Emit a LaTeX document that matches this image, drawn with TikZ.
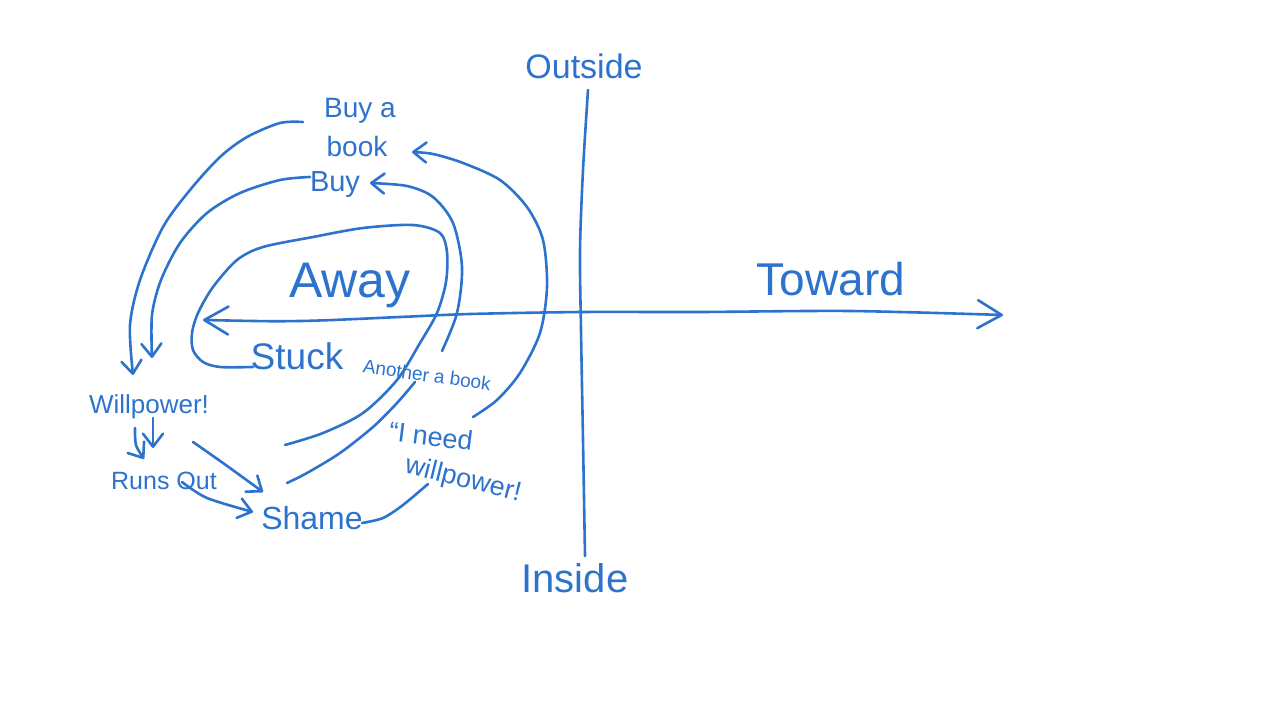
\documentclass[tikz,border=0pt]{standalone}
\usepackage{fontspec}
\setmainfont{Liberation Sans}
\usetikzlibrary{arrows.meta}
\definecolor{ink}{RGB}{45,115,205}
\tikzset{
  bigtip/.tip={Straight Barb[length=24pt,width=28pt,round]},
  smalltip/.tip={Straight Barb[length=13pt,width=20pt,round]},
  pen/.style={draw=ink, line width=2.6pt, line cap=round, line join=round},
  lbl/.style={text=ink, inner sep=0pt, anchor=base},
  rlbl/.style={text=ink, inner sep=0pt},
  fs/.style={font=\fontsize{#1}{#1}\selectfont}
}
\begin{document}
\begin{tikzpicture}[x=1pt,y=-1pt]
\useasboundingbox (0,0) rectangle (1280,720);

% labels
\node[lbl,fs=34] (outside) at (584,78) {Outside};
\node[lbl,fs=40] (inside) at (575,592) {Inside};
\node[lbl,fs=46] (toward) at (831,295) {Toward};
\node[lbl,fs=50] (away) at (350,297) {Away};
\node[lbl,fs=28] (buya) at (360,117) {Buy a};
\node[lbl,fs=28] (book) at (357,156) {book};
\node[lbl,fs=29] (buy) at (335,191) {Buy};
\node[lbl,fs=37] (stuck) at (297,369) {Stuck};
\node[rlbl,fs=19,rotate=-8] (another) at (427,375) {Another a book};
\node[lbl,fs=26] (willpower) at (149,413) {Willpower!};
\node[lbl,fs=25] (runsout) at (164,489) {Runs Out};
\node[lbl,fs=32] (shame) at (312,529) {Shame};
\node[rlbl,fs=27,rotate=-7] (ineed) at (431,436) {“I need};
\node[rlbl,fs=27,rotate=-14] (ineedb) at (463,480) {willpower!};

% named end points
\coordinate (vtop) at (588,90);
\coordinate (vbot) at (585,556);
\coordinate (hl) at (203,320);
\coordinate (hr) at (1003,315);
\coordinate (a0) at (303,122);
\coordinate (a1) at (133,375);
\coordinate (b0) at (310,177);
\coordinate (b1) at (152,358);
\coordinate (c0) at (253,367);
\coordinate (c1) at (285,445);
\coordinate (d0) at (287,483);
\coordinate (d1) at (415,382);
\coordinate (d2) at (442,351);
\coordinate (d3) at (370,183);
\coordinate (e0) at (473,417);
\coordinate (e1) at (412,152);
\coordinate (i0) at (362,523);
\coordinate (i1) at (428,484);
\coordinate (f0) at (135,428);
\coordinate (f1) at (144,459);
\coordinate (k0) at (153,418);
\coordinate (k1) at (153,448);
\coordinate (h0) at (193,442);
\coordinate (h1) at (263,492);
\coordinate (g0) at (182,482);
\coordinate (g1) at (253,512);

% axes
\draw[pen] plot[smooth] coordinates {(vtop) (583,170) (580,250) (581,330) (583,440) (vbot)};
\draw[pen, bigtip-bigtip] plot[smooth] coordinates {(hl) (300,321) (400,317) (470,314) (582,312) (700,312) (850,311) (hr)};

% outer arc: Buy a book -> Willpower!
\draw[pen, -smalltip] plot[smooth] coordinates {(a0) (280,123) (247,137) (220,157) (190,190) (163,227) (140,280) (130,325) (a1)};
% inner arc: Buy -> Willpower!
\draw[pen, -smalltip] plot[smooth] coordinates {(b0) (280,180) (240,193) (207,213) (180,243) (161,280) (152,315) (b1)};
% loop around Away from Stuck
\draw[pen] plot[smooth] coordinates {(c0) (220,367) (203,362) (193,350) (192,333) (198,313) (213,287) (237,260) (263,247) (313,237) (363,228) (413,225) (440,233) (447,252) (446,282) (437,313) (420,343) (397,380) (363,413) (323,433) (c1)};
% Shame -> Buy
\draw[pen] plot[smooth] coordinates {(d0) (307,473) (340,453) (373,427) (397,403) (d1)};
\draw[pen, -smalltip] plot[smooth] coordinates {(d2) (457,313) (462,267) (453,223) (433,197) (407,186) (d3)};
% I need willpower -> Buy a book
\draw[pen, -smalltip] plot[smooth] coordinates {(e0) (497,400) (520,373) (540,333) (547,287) (543,240) (527,207) (500,180) (463,163) (433,154) (e1)};
% Shame -> I need willpower
\draw[pen] plot[smooth] coordinates {(i0) (383,518) (403,505) (i1)};
% Willpower -> Runs Out
\draw[pen, -smalltip] plot[smooth] coordinates {(f0) (136,445) (f1)};
\draw[pen, -smalltip] (k0) -- (k1);
% Runs Out -> Shame
\draw[pen, -smalltip] plot[smooth] coordinates {(h0) (223,463) (h1)};
\draw[pen, -smalltip] plot[smooth] coordinates {(g0) (207,498) (g1)};
\end{tikzpicture}
\end{document}
